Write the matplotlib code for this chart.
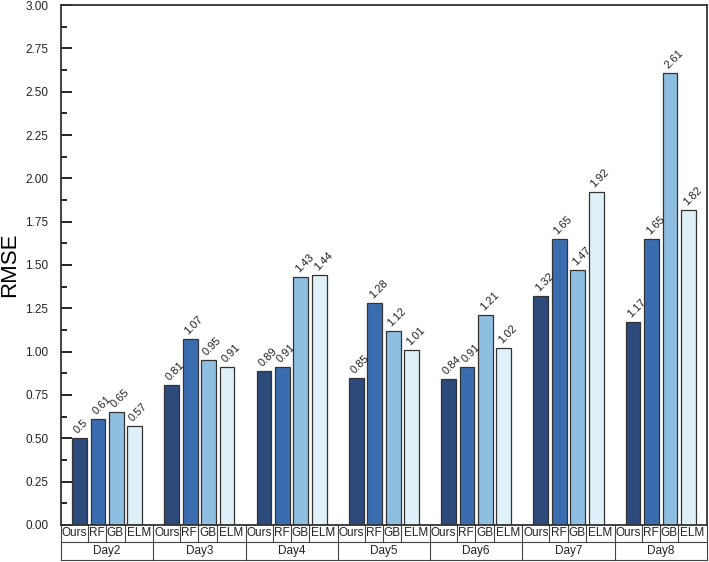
import matplotlib.pyplot as plt
from matplotlib.ticker import MultipleLocator
import numpy as np

plt.rcParams['font.family'] = ['Liberation Sans', 'DejaVu Sans']

days = ["Day2", "Day3", "Day4", "Day5", "Day6", "Day7", "Day8"]
models = ["Ours", "RF", "GB", "ELM"]
ours = [0.5, 0.81, 0.89, 0.85, 0.84, 1.32, 1.17]
rf = [0.61, 1.07, 0.91, 1.28, 0.91, 1.65, 1.65]
gb = [0.65, 0.95, 1.43, 1.12, 1.21, 1.47, 2.61]
elm = [0.57, 0.91, 1.44, 1.01, 1.02, 1.92, 1.82]
colors = ["#2c4a7c", "#3a6db0", "#8fbfe0", "#dff0f8"]

series = [ours, rf, gb, elm]

fig = plt.figure(figsize=(7.09, 5.62), dpi=100)
ax = fig.add_axes([0.086, 0.066, 0.911, 0.925])

x = np.arange(len(days))
step = 0.2
width = 0.16
for j, vals in enumerate(series):
    pos = x + (j - 1.5) * step
    ax.bar(pos, vals, width=width, color=colors[j], edgecolor="#333333", linewidth=0.9)
    for p, v in zip(pos, vals):
        ax.text(p - width / 2, v + 0.015, f"{v:g}", rotation=45, ha="left", va="bottom",
                fontsize=8, color="#222222")

ax.set_xlim(-0.5, len(days) - 0.5)
ax.set_ylim(0, 3.0)
ax.yaxis.set_major_locator(MultipleLocator(0.25))
ax.yaxis.set_minor_locator(MultipleLocator(0.125))
ax.yaxis.set_major_formatter(plt.FormatStrFormatter("%.2f"))
ax.tick_params(axis="y", which="major", direction="in", length=8, width=1.2, labelsize=8.5,
               pad=9, labelcolor="#222222")
ax.tick_params(axis="y", which="minor", direction="in", length=4, width=1.2)
ax.set_xticks([])
ax.set_ylabel("RMSE", fontsize=16)
ax.yaxis.set_label_coords(-0.064, 0.5)
for s in ax.spines.values():
    s.set_linewidth(1.3)
    s.set_color("#333333")

# category table under the axis
tr = ax.get_xaxis_transform()
fig_h = 562.0
ax_h = 0.925 * fig_h
r1 = -17 / ax_h
r2 = -35 / ax_h
lw = 0.8
lc = "#444444"
ax.plot([-0.5, len(days) - 0.5], [r1, r1], transform=tr, clip_on=False, color=lc, lw=lw)
ax.plot([-0.5, len(days) - 0.5], [r2, r2], transform=tr, clip_on=False, color=lc, lw=lw)
ax.plot([-0.5, -0.5], [0, r2], transform=tr, clip_on=False, color=lc, lw=lw)
ax.plot([len(days) - 0.5] * 2, [0, r2], transform=tr, clip_on=False, color=lc, lw=lw)
cuts = [0.293, 0.49, 0.69]
for i, d in enumerate(days):
    left = i - 0.5
    if i > 0:
        ax.plot([left, left], [0, r2], transform=tr, clip_on=False, color=lc, lw=lw)
    edges = [left] + [left + c for c in cuts] + [left + 1]
    for c in cuts:
        ax.plot([left + c, left + c], [0, r1], transform=tr, clip_on=False, color=lc, lw=lw)
    for k, m in enumerate(models):
        ax.text((edges[k] + edges[k + 1]) / 2, r1 / 2, m, transform=tr, ha="center",
                va="center", fontsize=8.5, color="#222222")
    ax.text(i, (r1 + r2) / 2, d, transform=tr, ha="center", va="center",
            fontsize=8.5, color="#222222")

fig.savefig("out.png", dpi=100)
